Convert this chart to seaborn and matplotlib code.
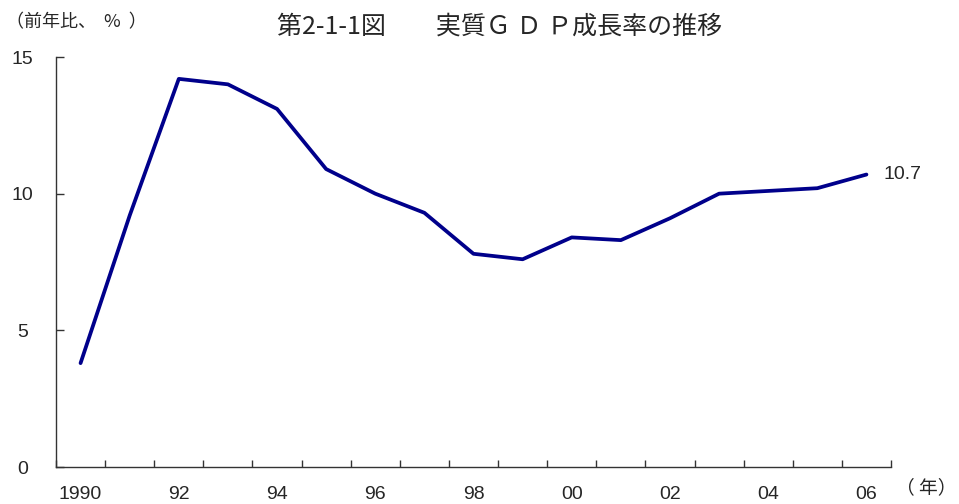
import matplotlib
matplotlib.use("Agg")
import matplotlib.pyplot as plt
import seaborn as sns
import pandas as pd

years = list(range(1990, 2007))
growth = [3.8, 9.2, 14.2, 14.0, 13.1, 10.9, 10.0, 9.3, 7.8, 7.6, 8.4, 8.3, 9.1, 10.0, 10.1, 10.2, 10.7]
tick_labels = ["1990", "92", "94", "96", "98", "00", "02", "04", "06"]

sns.set_theme(style="white")
plt.rcParams['font.family'] = ['Liberation Sans', 'Noto Sans CJK JP', 'DejaVu Sans']

df = pd.DataFrame({"idx": range(len(years)), "growth": growth})

fig = plt.figure(figsize=(9.59, 5.04), dpi=100)
ax = fig.add_axes([56/959, 1-467/504, (891-56)/959, (467-57)/504])
sns.lineplot(data=df, x="idx", y="growth", ax=ax, color="#00008B", linewidth=2.7)

ax.set_xlim(-0.5, len(years) - 0.5)
ax.set_ylim(0, 15)
ax.set_yticks([0, 5, 10, 15])
ax.set_yticklabels(["0", "5", "10", "15"], fontsize=14)
ax.set_xticks([i - 0.5 for i in range(len(years) + 1)])
ax.set_xticklabels([])
ax.set_xticks(list(range(0, len(years), 2)), minor=True)
ax.set_xticklabels(tick_labels, minor=True, fontsize=14)
ax.tick_params(axis='x', which='major', direction='in', length=5, width=1, color='#333333', bottom=True)
ax.tick_params(axis='x', which='minor', length=0, pad=14, bottom=True)
ax.tick_params(axis='y', direction='in', length=6, width=1, color='#333333', left=True, pad=24)
for lbl in ax.get_yticklabels():
    lbl.set_horizontalalignment('center')
ax.set_xlabel("")
ax.set_ylabel("")
for s in ["top", "right"]:
    ax.spines[s].set_visible(False)
for s in ["left", "bottom"]:
    ax.spines[s].set_color("#333333")
    ax.spines[s].set_linewidth(1.0)

ax.annotate("10.7", xy=(len(years) - 1, growth[-1]), xytext=(12, 0), textcoords="offset points",
            fontsize=14, va="center", ha="left", annotation_clip=False)

fig.text(500/959, 1-27/504, "第2-1-1図　　実質Ｇ Ｄ Ｐ成長率の推移", ha="center", va="center",
         fontsize=18, family=['Noto Sans CJK JP', 'DejaVu Sans'])
fig.text(6/959, 1-22/504, "（前年比、  %  ）", ha="left", va="center", fontsize=13,
         family=['Noto Sans CJK JP', 'DejaVu Sans'])
fig.text(957/959, 1-488/504, "（ 年）", ha="right", va="center", fontsize=13.5,
         family=['Noto Sans CJK JP', 'DejaVu Sans'])

fig.savefig("out.png", dpi=100)
